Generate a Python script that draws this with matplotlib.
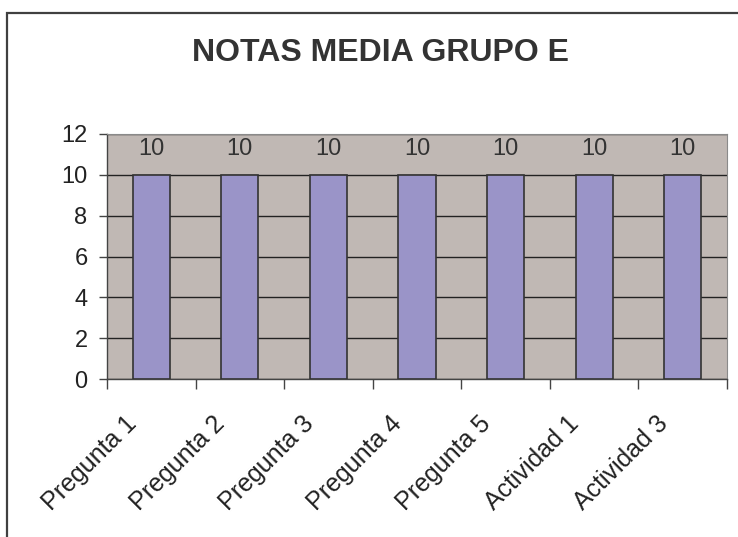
import matplotlib
matplotlib.use("Agg")
import matplotlib.pyplot as plt
from matplotlib.patches import Rectangle
from matplotlib.transforms import ScaledTranslation

categories = ["Pregunta 1", "Pregunta 2", "Pregunta 3", "Pregunta 4", "Pregunta 5", "Actividad 1", "Actividad 3"]
values = [10, 10, 10, 10, 10, 10, 10]
yticks = [0, 2, 4, 6, 8, 10, 12]
title = "NOTAS MEDIA GRUPO E"

plt.rcParams['font.family'] = ['Liberation Sans', 'DejaVu Sans']

W, H = 738, 537
fig = plt.figure(figsize=(W/100, H/100), dpi=100)
fig.patch.set_facecolor('white')

# outer chart frame (extends past right and bottom edges)
fig.add_artist(Rectangle((7/W, -0.1), 1.2, (H-13)/H + 0.1, transform=fig.transFigure,
                         fill=False, edgecolor='#404040', linewidth=1.6))

left, right, top, bottom = 107, 727, 134, 379
ax = fig.add_axes([left/W, 1-bottom/H, (right-left)/W, (bottom-top)/H])
ax.set_facecolor('#C0B8B4')

x = list(range(len(categories)))
ax.set_xlim(-0.5, len(categories)-0.5)
ax.set_ylim(0, 12)
ax.set_yticks(yticks)
ax.yaxis.grid(True, color='#222222', linewidth=1.0)
ax.set_axisbelow(True)

bars = ax.bar(x, values, width=0.42, color='#9A94C8', edgecolor='#333333', linewidth=1.2, zorder=3)
for xi, v in zip(x, values):
    ax.text(xi, v + 0.75, f"{v:g}", ha='center', va='bottom', fontsize=17, color='#333333')

for s in ['top', 'right']:
    ax.spines[s].set_color('#8a8a8a')
    ax.spines[s].set_linewidth(0.8)
ax.spines['left'].set_color('#444444')
ax.spines['bottom'].set_color('#444444')
ax.spines['left'].set_linewidth(1.0)
ax.spines['bottom'].set_linewidth(1.0)

ax.tick_params(axis='y', direction='out', length=6, width=1, color='#444444', labelsize=17, labelcolor='#222222', pad=8)
# x ticks at category boundaries; labels at centers
ax.set_xticks([i - 0.5 for i in range(len(categories)+1)])
ax.set_xticklabels([])
ax.tick_params(axis='x', direction='out', length=7, width=1, color='#444444')
ax.set_xticks(x, minor=True)
ax.set_xticklabels(categories, minor=True, rotation=45, ha='right', va='top',
                   rotation_mode='anchor', fontsize=18, color='#222222')
ax.tick_params(axis='x', which='minor', length=0, pad=16)
for lbl in ax.get_xticklabels(minor=True):
    lbl.set_transform(lbl.get_transform() + ScaledTranslation(-27/100, -10/100, fig.dpi_scale_trans))

fig.text(380/W, 1-53/H, title, ha='center', va='center', fontsize=23, fontweight='bold', color='#333333')

fig.savefig('out.png', dpi=100)
